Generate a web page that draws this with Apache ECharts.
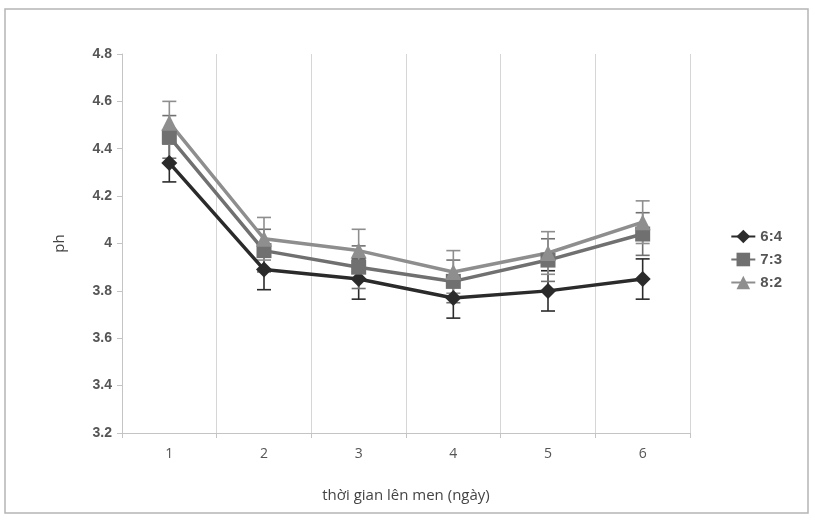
<!DOCTYPE html>
<html><head><meta charset="utf-8">
<script src="https://cdn.jsdelivr.net/npm/echarts@6/dist/echarts.min.js"></script>
<style>html,body{margin:0;padding:0;background:#fff}#c{width:815px;height:520px}</style>
</head><body><div id="c"></div>
<script>
var categories = ['1','2','3','4','5','6'];
var s64 = [4.34, 3.89, 3.85, 3.77, 3.80, 3.85];
var s73 = [4.45, 3.97, 3.90, 3.84, 3.93, 4.04];
var s82 = [4.51, 4.02, 3.97, 3.88, 3.96, 4.09];
var e64 = [0.08, 0.085, 0.085, 0.085, 0.085, 0.085];
var e73 = [0.09, 0.09, 0.09, 0.09, 0.09, 0.09];
var e82 = [0.09, 0.09, 0.09, 0.09, 0.09, 0.09];
var names = ['6:4','7:3','8:2'];
var colors = ['#2b2b2b','#707070','#8e8e8e'];

function errSeries(vals, errs, color){
  var data = vals.map(function(v,i){return [i, v-errs[i], v+errs[i]];});
  return {
    type:'custom', silent:true, z:1,
    data:data,
    renderItem:function(params, api){
      var lo = api.coord([api.value(0), api.value(1)]);
      var hi = api.coord([api.value(0), api.value(2)]);
      var w = 7;
      var st = {stroke:color, lineWidth:1.6};
      return {type:'group', children:[
        {type:'line', shape:{x1:lo[0],y1:lo[1],x2:hi[0],y2:hi[1]}, style:st},
        {type:'line', shape:{x1:lo[0]-w,y1:lo[1],x2:lo[0]+w,y2:lo[1]}, style:st},
        {type:'line', shape:{x1:hi[0]-w,y1:hi[1],x2:hi[0]+w,y2:hi[1]}, style:st}
      ]};
    }
  };
}
function lineSeries(name, vals, color, symbol, size){
  return {name:name, type:'line', data:vals, symbol:symbol, symbolSize:size, z:3,
    lineStyle:{color:color, width:3.5}, itemStyle:{color:color}};
}
var chart = echarts.init(document.getElementById('c'));
chart.setOption({
  animation:false,
  graphic:[{type:'rect', shape:{x:5,y:9,width:803,height:504}, style:{fill:'none', stroke:'#b5b5b5', lineWidth:1.5}}],
  grid:{left:122, right:125, top:54, bottom:87},
  legend:{
    orient:'vertical', right:28, top:224, itemGap:8, itemWidth:24, itemHeight:17,
    data:names,
    textStyle:{fontFamily:'Liberation Sans', fontWeight:'bold', fontSize:15, color:'#555'}
  },
  xAxis:{
    type:'category', data:categories, boundaryGap:true,
    name:'thời gian lên men (ngày)', nameLocation:'middle', nameGap:55,
    nameTextStyle:{fontFamily:'Open Sans', fontSize:15, color:'#444'},
    axisLine:{lineStyle:{color:'#c4c4c4', width:1}},
    axisTick:{show:true, length:5, lineStyle:{color:'#c4c4c4'}},
    axisLabel:{fontFamily:'Open Sans', fontSize:14, color:'#555', margin:14},
    splitLine:{show:true, lineStyle:{color:'#d6d6d6', width:1}}
  },
  yAxis:{
    type:'value', min:3.2, max:4.8, interval:0.2,
    name:'ph', nameLocation:'middle', nameGap:55,
    nameTextStyle:{fontFamily:'Open Sans', fontSize:15, color:'#444'},
    axisLine:{show:true, lineStyle:{color:'#c4c4c4', width:1}},
    axisTick:{show:true, length:5, lineStyle:{color:'#c4c4c4'}},
    axisLabel:{fontFamily:'Liberation Sans', fontWeight:'bold', fontSize:14, color:'#555', margin:10,
      formatter:function(v){return String(Math.round(v*10)/10);}},
    splitLine:{show:false}
  },
  series:[
    errSeries(s64, e64, colors[0]),
    errSeries(s73, e73, colors[1]),
    errSeries(s82, e82, colors[2]),
    lineSeries(names[0], s64, colors[0], 'diamond', 16),
    lineSeries(names[1], s73, colors[1], 'rect', 15),
    lineSeries(names[2], s82, colors[2], 'triangle', 16)
  ]
});
</script></body></html>
